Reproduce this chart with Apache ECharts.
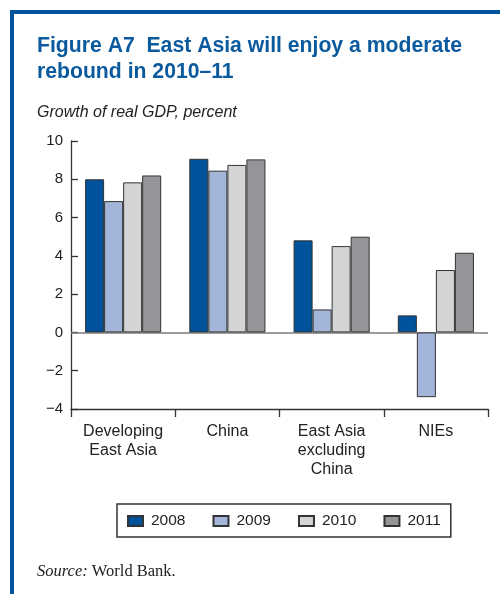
<!DOCTYPE html>
<html>
<head>
<meta charset="utf-8">
<script src="https://cdn.jsdelivr.net/npm/echarts@6/dist/echarts.min.js"></script>
<style>
html,body{margin:0;padding:0;background:#fff;}
#chart{width:500px;height:594px;}
</style>
</head>
<body>
<div id="chart"></div>
<script>
const categories = ['Developing\nEast Asia', 'China', 'East Asia\nexcluding\nChina', 'NIEs'];
const years = ['2008', '2009', '2010', '2011'];
const v2008 = [8.0, 9.07, 4.81, 0.89];
const v2009 = [6.86, 8.45, 1.2, -3.38];
const v2010 = [7.84, 8.75, 4.51, 3.26];
const v2011 = [8.2, 9.04, 5.0, 4.16];
const yTicks = [-4, -2, 0, 2, 4, 6, 8, 10];

const colors = ['#00529b', '#a3b5d8', '#d3d4d6', '#939598'];
const seriesValues = [v2008, v2009, v2010, v2011];
const FONT = 'Liberation Sans, Arial, Helvetica, sans-serif';
const SERIF = 'Liberation Serif, Times New Roman, serif';

const chart = echarts.init(document.getElementById('chart'), null, {renderer: 'canvas'});

const series = years.map((y, i) => {
  const s = {
    name: y,
    type: 'bar',
    data: seriesValues[i],
    barGap: '0%',
    barCategoryGap: '27%',
    itemStyle: {color: colors[i], borderColor: '#333', borderWidth: 1},
    emphasis: {disabled: true}
  };
  if (i === 0) {
    s.markLine = {
      silent: true,
      symbol: ['none', 'none'],
      label: {show: false},
      lineStyle: {color: '#7a7a7a', width: 1.5, type: 'solid'},
      emphasis: {disabled: true},
      z: 1,
      data: [{yAxis: 0}]
    };
  }
  return s;
});

chart.setOption({
  animation: false,
  backgroundColor: '#fff',
  title: {
    text: 'Figure A7  East Asia will enjoy a moderate\nrebound in 2010\u201311',
    left: 37,
    top: 33,
    padding: 0,
    textStyle: {fontFamily: FONT, fontSize: 21.2, fontWeight: 'bold', color: '#0b5a9e', lineHeight: 26}
  },
  graphic: [
    {type: 'rect', shape: {x: 10, y: 10, width: 4, height: 584}, style: {fill: '#00559a'}, silent: true},
    {type: 'rect', shape: {x: 10, y: 10, width: 490, height: 4}, style: {fill: '#00559a'}, silent: true},
    {type: 'text', left: 37, top: 105, style: {text: 'Growth of real GDP, percent', font: 'italic 16px ' + FONT, fill: '#222'}},
    {type: 'text', left: 37, top: 563, style: {
      text: '{i|Source:} World Bank.',
      font: '16.5px ' + SERIF,
      fill: '#222',
      rich: {i: {fontStyle: 'italic', fontFamily: SERIF, fontSize: 16.5, fill: '#222'}}
    }}
  ],
  legend: {
    data: years,
    left: 117,
    top: 504,
    orient: 'horizontal',
    icon: 'rect',
    itemWidth: 15,
    itemHeight: 10,
    itemGap: 27,
    padding: [9, 10, 8, 10],
    borderColor: '#333',
    borderWidth: 1.5,
    textStyle: {fontFamily: FONT, fontSize: 15.5, color: '#222', padding: [0, 0, 0, 3]},
    selectedMode: false
  },
  grid: {left: 71, right: 12, top: 141, bottom: 185, containLabel: false},
  xAxis: {
    type: 'category',
    data: categories,
    position: 'bottom',
    boundaryGap: true,
    axisLine: {onZero: false, lineStyle: {color: '#333', width: 1.3}},
    axisTick: {show: true, length: 8, inside: false, alignWithLabel: false, lineStyle: {color: '#333', width: 1.3}},
    axisLabel: {fontFamily: FONT, fontSize: 16, color: '#222', lineHeight: 19, margin: 13, interval: 0},
    splitLine: {show: false}
  },
  yAxis: {
    type: 'value',
    min: -4,
    max: 10,
    interval: 2,
    axisLine: {show: true, lineStyle: {color: '#333', width: 1.3}},
    axisTick: {show: true, inside: true, length: 7, lineStyle: {color: '#333', width: 1.3}},
    axisLabel: {
      fontFamily: FONT, fontSize: 15, color: '#222', margin: 8,
      formatter: v => yTicks.includes(v) ? String(v).replace('-', '\u2212') : ''
    },
    splitLine: {show: false}
  },
  series: series
});
</script>
</body>
</html>
